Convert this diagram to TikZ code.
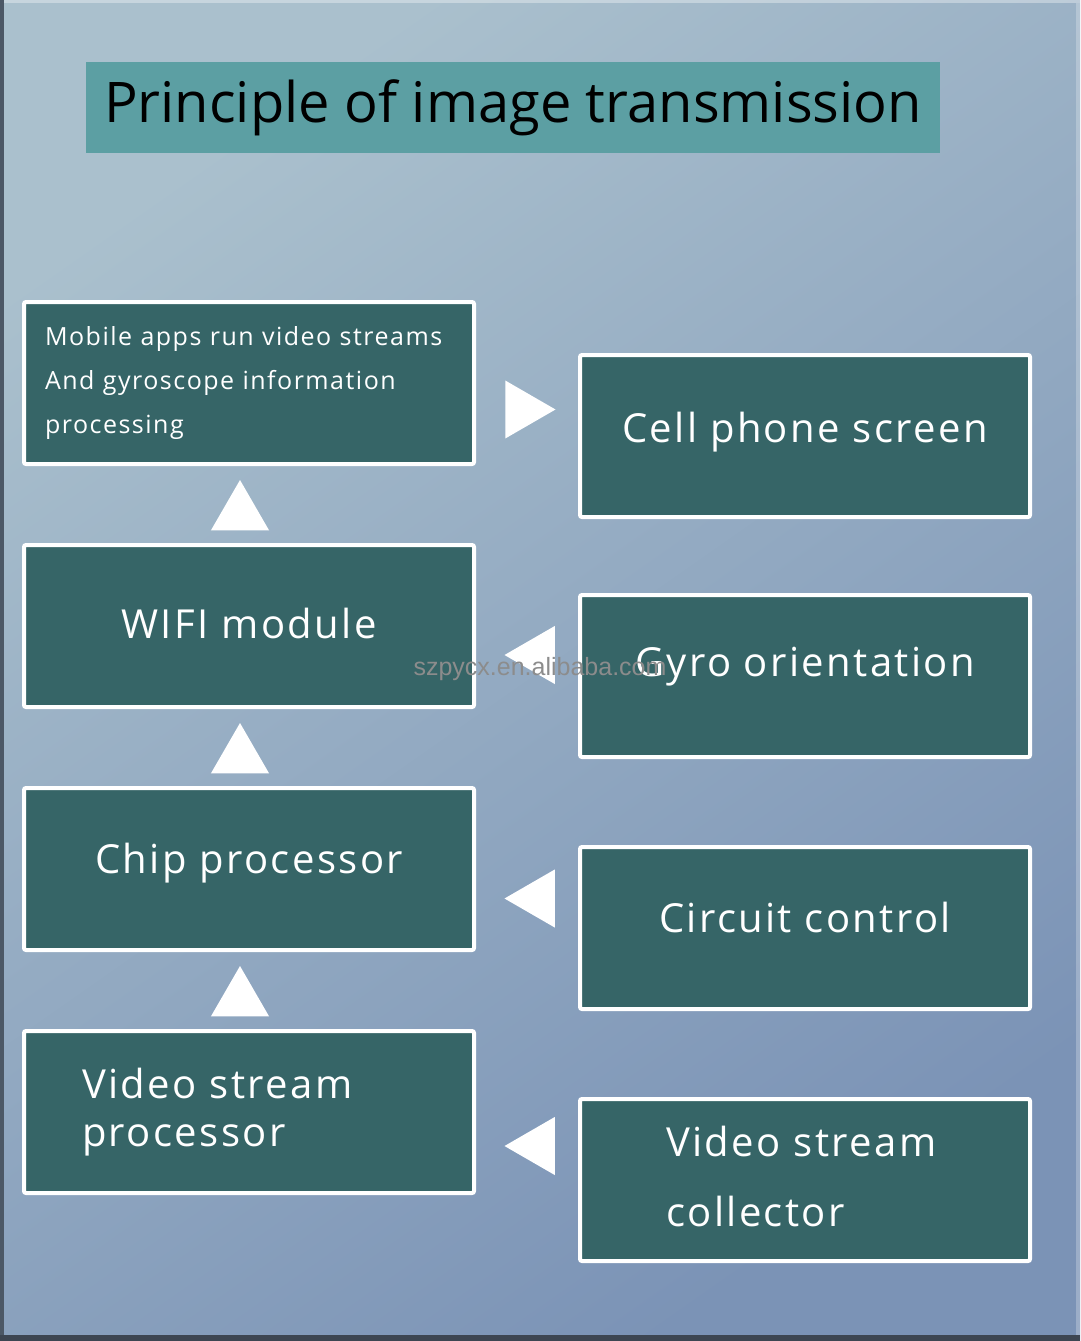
\documentclass[tikz,border=0pt]{standalone}
\usepackage{fontspec}
\setmainfont{Open Sans}
\newfontfamily\boxfont[LetterSpace=6]{Open Sans}
\newfontfamily\markfont{Liberation Sans}
\usetikzlibrary{positioning, calc, shapes.geometric}
\definecolor{cBgA}{HTML}{AAC0CD}
\definecolor{cBgB}{HTML}{94AFC3}
\definecolor{cBgC}{HTML}{7B93B6}
\definecolor{cTitle}{HTML}{5C9FA3}
\definecolor{cBox}{HTML}{366567}
\definecolor{cEdge}{HTML}{4C5866}

\begin{document}
\begin{tikzpicture}[x=1pt, y=-1pt,
  procbox/.style={draw=white, line width=4pt, fill=cBox, rounded corners=2pt,
    minimum width=450pt, minimum height=162pt, inner sep=0pt, text=white,
    font=\boxfont\fontsize{40}{48}\selectfont},
  oneline/.style={text height=30pt, text depth=#1},
  oneline/.default=21pt,
  marker/.style={regular polygon, regular polygon sides=3, fill=white,
    minimum size=67pt, inner sep=0pt, outer sep=0pt},
  node distance=77pt
]
% background
\shade[top color=cBgA, middle color=cBgB, bottom color=cBgC, shading angle=35]
  (0,0) rectangle (1080,1341);
\fill[cEdge] (0,0) rectangle (4,1341);
\fill[cEdge!80!black] (0,1335) rectangle (1080,1341);
\fill[white, opacity=.35] (4,0) rectangle (1080,3);
\fill[white, opacity=.25] (1076,3) rectangle (1080,1335);

% title
\node[fill=cTitle, minimum width=854pt, minimum height=91pt, inner sep=0pt,
  font=\fontsize{56}{60}\selectfont] (title) at (513,107.5)
  {Principle of image transmission};

% left column
\node[procbox, align=left, text width=408pt, inner xsep=21pt,
  font=\boxfont\fontsize{25}{44}\selectfont] (apps) at (249,383)
  {Mobile apps run video streams\\And gyroscope information\\processing};
\node[procbox, oneline=5pt, below=of apps] (wifi) {WIFI module};
\node[procbox, oneline, below=of wifi] (chip) {Chip processor};
\node[procbox, below=of chip, align=left, text width=334pt, inner xsep=58pt,
  font=\boxfont\fontsize{40}{48}\selectfont] (vproc) {Video stream\\processor};

% right column
\node[procbox, oneline=18pt] (screen) at (805,436) {Cell phone screen};
\node[procbox, oneline=29pt, below=74pt of screen] (gyro) {Gyro orientation};
\node[procbox, oneline, below=86pt of gyro] (circuit) {Circuit control};
\node[procbox, below=86pt of circuit, align=left, text width=278pt, inner xsep=86pt,
  font=\boxfont\fontsize{40}{70}\selectfont] (vcoll)
  {Video stream\\collector\vspace{8pt}};

% markers
\node[marker, anchor=corner 1, xshift=-9pt] (up1) at ($(apps.south)+(0,14)$) {};
\node[marker, anchor=corner 1, xshift=-9pt] (up2) at ($(wifi.south)+(0,14)$) {};
\node[marker, anchor=corner 1, xshift=-9pt] (up3) at ($(chip.south)+(0,14)$) {};
\node[marker, shape border rotate=-90, xshift=-5pt] (tx) at ($(apps.east)!.5!(screen.west)$) {};
\node[marker, shape border rotate=90, xshift=11pt, yshift=-4pt] (rx1) at ($(wifi.east)!.5!(gyro.west)$) {};
\node[marker, shape border rotate=90, xshift=11pt] (rx2) at ($(chip.east)!.5!(circuit.west)$) {};
\node[marker, shape border rotate=90, xshift=11pt] (rx3) at ($(vproc.east)!.5!(vcoll.west)$) {};

% watermark
\node[text=black!45, font=\markfont\fontsize{25}{27}\selectfont] (mark)
  at (540,669) {szpycx.en.alibaba.com};
\end{tikzpicture}
\end{document}
